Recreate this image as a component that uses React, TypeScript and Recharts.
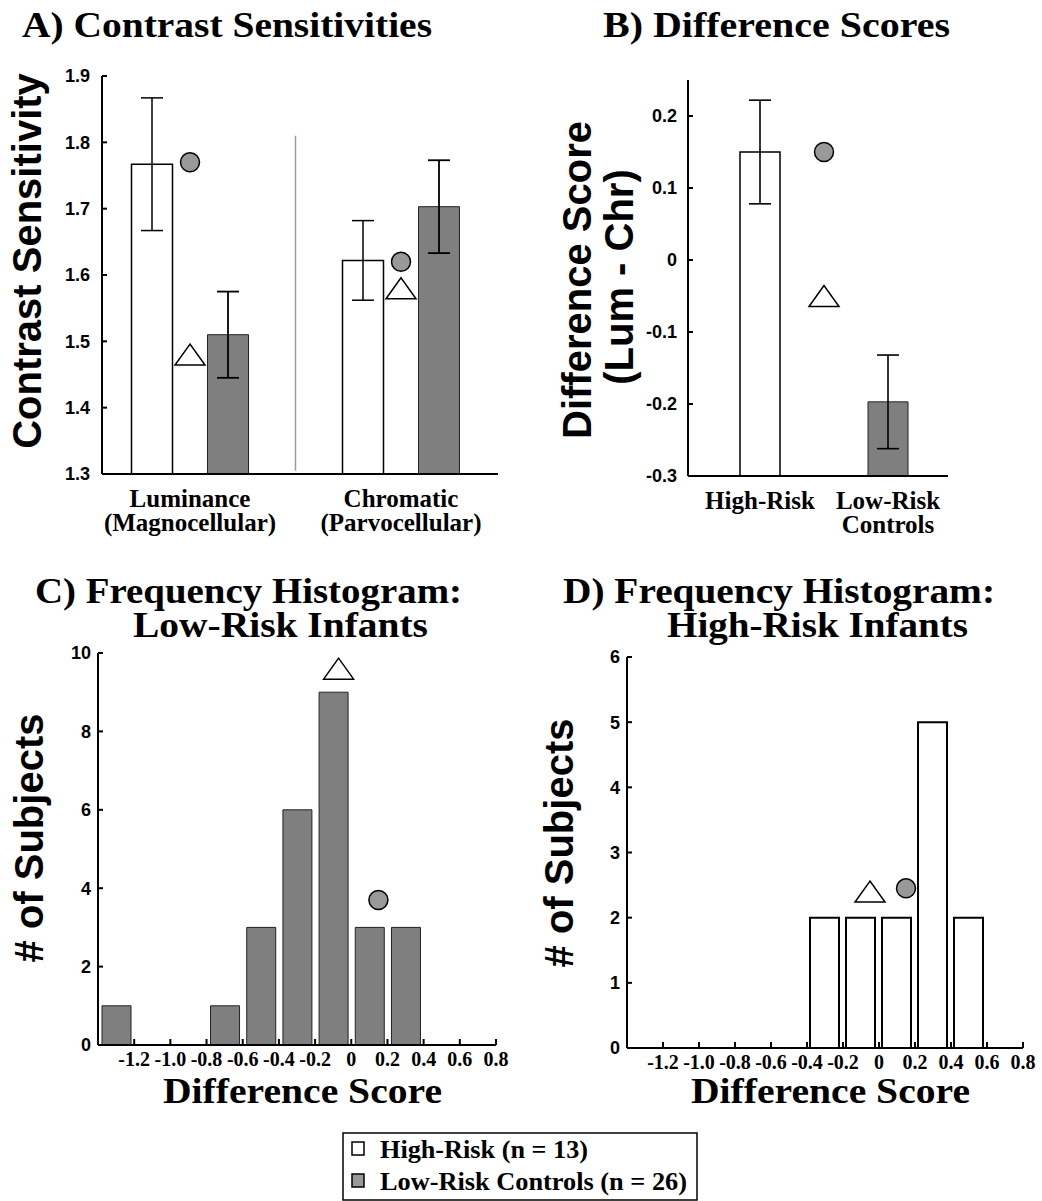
import React from "react";
import {
  Bar,
  Cell,
  ComposedChart,
  ErrorBar,
  ReferenceLine,
  Scatter,
  XAxis,
  YAxis
} from "recharts";

const SERIF = '"Liberation Serif", "Times New Roman", serif';
const SANS = '"Liberation Sans", Arial, sans-serif';
const GRAY = "#7f7f7f";
const MARKER_GRAY = "#999999";
const AXIS = { stroke: "#000", strokeWidth: 2 };

// A) contrast sensitivities
const conditions = ["Luminance\n(Magnocellular)", "Chromatic\n(Parvocellular)"];
const highRiskCS = [1.767, 1.622];
const highRiskCSErr = [0.1, 0.06];
const lowRiskCS = [1.51, 1.703];
const lowRiskCSErr = [0.065, 0.07];
const circleCS = [1.77, 1.62];
const triangleCS = [1.48, 1.58];
const csTicks = [1.3, 1.4, 1.5, 1.6, 1.7, 1.8, 1.9];

// B) difference scores
const groups = ["High-Risk", "Low-Risk\nControls"];
const diffMeans = [0.15, -0.197];
const diffErr = [0.072, 0.065];
const circleDiff = 0.15;
const triangleDiff = -0.05;
const diffTicks = [-0.3, -0.2, -0.1, 0, 0.1, 0.2];
const DIFF_MIN = -0.3;

// C / D) histograms
const lowRiskBins = [-1.3, -0.7, -0.5, -0.3, -0.1, 0.1, 0.3];
const lowRiskCounts = [1, 1, 3, 6, 9, 3, 3];
const highRiskBins = [-0.3, -0.1, 0.1, 0.3, 0.5];
const highRiskCounts = [2, 2, 2, 5, 2];
const lowRiskCircle = [0.15, 3.7];
const lowRiskTriangle = [-0.07, 9.6];
const highRiskCircle = [0.15, 2.45];
const highRiskTriangle = [-0.05, 2.4];
const scoreTicks = [-1.2, -1.0, -0.8, -0.6, -0.4, -0.2, 0, 0.2, 0.4, 0.6, 0.8];
const SCORE_DOMAIN = [-1.4, 0.8];

const legendNames = ["High-Risk", "Low-Risk Controls"];
const legendN = [13, 26];

const MARKER_SLOT = "__markers__";

const csData = conditions.map((name, i) => ({
  name,
  hr: highRiskCS[i],
  hrErr: highRiskCSErr[i],
  lr: lowRiskCS[i],
  lrErr: lowRiskCSErr[i],
  circle: circleCS[i],
  triangle: triangleCS[i]
}));

const diffData = [
  { name: groups[0], range: [DIFF_MIN, diffMeans[0]], err: diffErr[0] },
  { name: MARKER_SLOT, circle: circleDiff, triangle: triangleDiff },
  { name: groups[1], range: [DIFF_MIN, diffMeans[1]], err: diffErr[1] }
];

const lowRiskData = lowRiskBins.map((x, i) => ({ x, count: lowRiskCounts[i] }));
const highRiskData = highRiskBins.map((x, i) => ({ x, count: highRiskCounts[i] }));

const point = (p: number[]) => [{ x: p[0], y: p[1] }];

const fmtScore = (v: number) => (Math.abs(v) < 1e-9 ? "0" : v.toFixed(1));

const sansTick = { fontFamily: SANS, fontWeight: "bold", fontSize: 18, fill: "#000" };
const serifTick = { fontFamily: SERIF, fontWeight: "bold", fontSize: 20, fill: "#000" };

function CircleMarker(props: any) {
  const { cx, cy } = props;
  if (!Number.isFinite(cx) || !Number.isFinite(cy)) return <g />;
  return <circle cx={cx} cy={cy} r={9.5} fill={MARKER_GRAY} stroke="#000" strokeWidth={1.5} />;
}

function TriangleMarker(props: any) {
  const { cx, cy } = props;
  if (!Number.isFinite(cx) || !Number.isFinite(cy)) return <g />;
  const pts = `${cx},${cy - 10.5} ${cx - 15},${cy + 10.5} ${cx + 15},${cy + 10.5}`;
  return <polygon points={pts} fill="#fff" stroke="#000" strokeWidth={1.5} />;
}

function CategoryTick(props: any) {
  const { x, y, payload } = props;
  if (payload.value === MARKER_SLOT) return <g />;
  const lines = String(payload.value).split("\n");
  return (
    <text
      x={x}
      y={y}
      textAnchor="middle"
      fontFamily={SERIF}
      fontWeight="bold"
      fontSize={25}
      fill="#000"
    >
      {lines.map((line, i) => (
        <tspan key={i} x={x} dy={i === 0 ? 33 : 24}>
          {line}
        </tspan>
      ))}
    </text>
  );
}

function ContrastChart() {
  return (
    <ComposedChart
      width={520}
      height={560}
      data={csData}
      margin={{ top: 76, right: 22, bottom: 26, left: 0 }}
      barGap={35}
    >
      <XAxis
        dataKey="name"
        type="category"
        padding={{ left: -17.5, right: -8.5 }}
        axisLine={AXIS}
        tickLine={false}
        tickSize={0}
        tickMargin={0}
        height={60}
        interval={0}
        tick={<CategoryTick />}
      />
      <YAxis
        type="number"
        domain={[1.3, 1.9]}
        ticks={csTicks}
        width={102}
        axisLine={AXIS}
        tickLine={AXIS}
        tickSize={-5}
        tickMargin={17}
        tick={sansTick}
        tickFormatter={(v: number) => v.toFixed(1)}
        allowDataOverflow
      />
      <ReferenceLine
        segment={[
          { x: conditions[0], y: 1.81 },
          { x: conditions[0], y: 1.305 }
        ]}
        position="end"
        stroke="#9a9a9a"
        strokeWidth={1.5}
      />
      <Bar dataKey="hr" barSize={41} fill="#fff" stroke="#000" strokeWidth={1.5} isAnimationActive={false}>
        <ErrorBar dataKey="hrErr" width={11} stroke="#000" strokeWidth={1.5} isAnimationActive={false} />
      </Bar>
      <Bar dataKey="lr" barSize={41} fill={GRAY} stroke="#222" strokeWidth={1} isAnimationActive={false}>
        <ErrorBar dataKey="lrErr" width={11} stroke="#000" strokeWidth={1.8} isAnimationActive={false} />
      </Bar>
      <Scatter dataKey="circle" shape={CircleMarker} isAnimationActive={false} />
      <Scatter dataKey="triangle" shape={TriangleMarker} isAnimationActive={false} />
    </ComposedChart>
  );
}

function DifferenceChart() {
  return (
    <ComposedChart
      width={440}
      height={560}
      data={diffData}
      margin={{ top: 80, right: 32, bottom: 24, left: 0 }}
    >
      <XAxis
        dataKey="name"
        type="category"
        padding={{ left: 40, right: 28 }}
        axisLine={AXIS}
        tickLine={false}
        tickSize={0}
        tickMargin={0}
        height={60}
        interval={0}
        tick={<CategoryTick />}
      />
      <YAxis
        type="number"
        domain={[DIFF_MIN, 0.25]}
        ticks={diffTicks}
        width={148}
        axisLine={AXIS}
        tickLine={AXIS}
        tickSize={-5}
        tickMargin={16}
        tick={sansTick}
        tickFormatter={(v: number) => (Math.abs(v) < 1e-9 ? "0" : v.toFixed(1))}
        allowDataOverflow
      />
      <Bar dataKey="range" barSize={40} strokeWidth={1.5} isAnimationActive={false}>
        {diffData.map((d, i) => (
          <Cell
            key={`${d.name}-${i}`}
            fill={d.name === groups[0] ? "#fff" : GRAY}
            stroke={d.name === groups[0] ? "#000" : "#222"}
            strokeWidth={d.name === groups[0] ? 1.5 : 1}
          />
        ))}
        <ErrorBar dataKey="err" width={11} stroke="#000" strokeWidth={1.6} isAnimationActive={false} />
      </Bar>
      <Scatter dataKey="circle" shape={CircleMarker} isAnimationActive={false} />
      <Scatter dataKey="triangle" shape={TriangleMarker} isAnimationActive={false} />
    </ComposedChart>
  );
}

interface HistogramProps {
  data: { x: number; count: number }[];
  yMax: number;
  yTicks: number[];
  circle: number[];
  triangle: number[];
  fill: string;
  stroke: string;
  strokeWidth: number;
  width: number;
  yAxisWidth: number;
  margin: { top: number; right: number; bottom: number; left: number };
}

function Histogram({
  data,
  yMax,
  yTicks,
  circle,
  triangle,
  fill,
  stroke,
  strokeWidth,
  width,
  yAxisWidth,
  margin
}: HistogramProps) {
  return (
    <ComposedChart width={width} height={520} data={data} margin={margin}>
      <XAxis
        type="number"
        dataKey="x"
        domain={SCORE_DOMAIN}
        ticks={scoreTicks}
        interval={0}
        height={50}
        axisLine={AXIS}
        tickLine={AXIS}
        tickSize={-6}
        tickMargin={13}
        tick={serifTick}
        tickFormatter={fmtScore}
        allowDataOverflow
      />
      {/* markers get their own hidden axis so they don't shrink the bar band */}
      <XAxis
        xAxisId="markers"
        type="number"
        dataKey="x"
        domain={SCORE_DOMAIN}
        hide
        allowDataOverflow
      />
      <YAxis
        type="number"
        domain={[0, yMax]}
        ticks={yTicks}
        width={yAxisWidth}
        axisLine={AXIS}
        tickLine={AXIS}
        tickSize={-5}
        tickMargin={12}
        tick={sansTick}
        allowDataOverflow
      />
      <Bar
        dataKey="count"
        barSize={29}
        fill={fill}
        stroke={stroke}
        strokeWidth={strokeWidth}
        isAnimationActive={false}
      />
      <Scatter
        xAxisId="markers"
        data={point(triangle)}
        dataKey="y"
        shape={TriangleMarker}
        isAnimationActive={false}
      />
      <Scatter
        xAxisId="markers"
        data={point(circle)}
        dataKey="y"
        shape={CircleMarker}
        isAnimationActive={false}
      />
    </ComposedChart>
  );
}

const titleStyle = { fontFamily: SERIF, fontWeight: "bold", fill: "#000" } as const;
const fitted = { lengthAdjust: "spacingAndGlyphs" } as const;
const axisTitleStyle = { fontFamily: SANS, fontWeight: "bold", fontSize: 40, fill: "#000" } as const;

function Overlay() {
  return (
    <svg
      width={1042}
      height={1201}
      style={{ position: "absolute", left: 0, top: 0, pointerEvents: "none" }}
    >
      <text x={22} y={37} fontSize={36} textLength={410} {...fitted} {...titleStyle}>
        A) Contrast Sensitivities
      </text>
      <text x={603} y={37} fontSize={36} textLength={347} {...fitted} {...titleStyle}>
        B) Difference Scores
      </text>
      <text x={35} y={603} fontSize={35} textLength={427} {...fitted} {...titleStyle}>
        C) Frequency Histogram:
      </text>
      <text x={133} y={637} fontSize={35} textLength={295} {...fitted} {...titleStyle}>
        Low-Risk Infants
      </text>
      <text x={563} y={603} fontSize={35} textLength={432} {...fitted} {...titleStyle}>
        D) Frequency Histogram:
      </text>
      <text x={667} y={637} fontSize={35} textLength={301} {...fitted} {...titleStyle}>
        High-Risk Infants
      </text>

      <text x={163} y={1103} fontSize={35} textLength={279} {...fitted} {...titleStyle}>
        Difference Score
      </text>
      <text x={691} y={1103} fontSize={35} textLength={279} {...fitted} {...titleStyle}>
        Difference Score
      </text>

      <text transform="translate(41,261) rotate(-90)" textAnchor="middle" {...axisTitleStyle}>
        Contrast Sensitivity
      </text>
      <text transform="translate(591,280) rotate(-90)" textAnchor="middle" {...axisTitleStyle}>
        Difference Score
      </text>
      <text transform="translate(633,277) rotate(-90)" textAnchor="middle" {...axisTitleStyle}>
        (Lum - Chr)
      </text>
      <text transform="translate(43,838) rotate(-90)" textAnchor="middle" {...axisTitleStyle}>
        # of Subjects
      </text>
      <text transform="translate(573,843) rotate(-90)" textAnchor="middle" {...axisTitleStyle}>
        # of Subjects
      </text>

      <rect x={343} y={1133} width={354} height={67} fill="#fff" stroke="#000" strokeWidth={1.5} />
      {legendNames.map((name, i) => (
        <g key={name}>
          <rect
            x={352}
            y={1142 + i * 32}
            width={12}
            height={13}
            fill={i === 0 ? "#fff" : MARKER_GRAY}
            stroke="#000"
            strokeWidth={1.5}
          />
          <text
            x={380}
            y={1158 + i * 32}
            fontSize={25}
            textLength={i === 0 ? 208 : 307}
            {...fitted}
            {...titleStyle}
          >
            {`${name} (n = ${legendN[i]})`}
          </text>
        </g>
      ))}
    </svg>
  );
}

export default function App() {
  return (
    <div
      style={{
        position: "absolute",
        left: 0,
        top: 0,
        width: 1042,
        height: 1201,
        background: "#fff",
        overflow: "hidden"
      }}
    >
      <div style={{ position: "absolute", left: 0, top: 0 }}>
        <ContrastChart />
      </div>
      <div style={{ position: "absolute", left: 540, top: 0 }}>
        <DifferenceChart />
      </div>
      <div style={{ position: "absolute", left: 0, top: 600 }}>
        <Histogram
          data={lowRiskData}
          yMax={10}
          yTicks={[0, 2, 4, 6, 8, 10]}
          circle={lowRiskCircle}
          triangle={lowRiskTriangle}
          fill={GRAY}
          stroke="#222"
          strokeWidth={1}
          width={520}
          yAxisWidth={98}
          margin={{ top: 53, right: 24, bottom: 25, left: 0 }}
        />
      </div>
      <div style={{ position: "absolute", left: 540, top: 600 }}>
        <Histogram
          data={highRiskData}
          yMax={6}
          yTicks={[0, 1, 2, 3, 4, 5, 6]}
          circle={highRiskCircle}
          triangle={highRiskTriangle}
          fill="#fff"
          stroke="#000"
          strokeWidth={2}
          width={502}
          yAxisWidth={87}
          margin={{ top: 57, right: 19, bottom: 22, left: 0 }}
        />
      </div>
      <Overlay />
    </div>
  );
}
